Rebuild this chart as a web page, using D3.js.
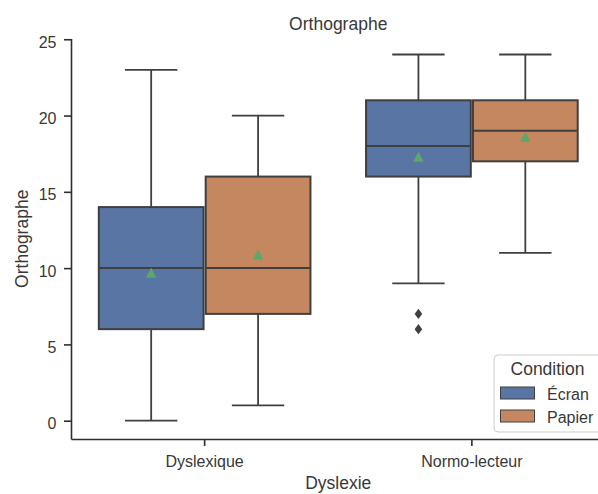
<!DOCTYPE html>
<html>
<head>
<meta charset="utf-8">
<script src="https://cdn.jsdelivr.net/npm/d3@7"></script>
<style>
  body { margin: 0; background: #fff; }
  text { font-family: "Liberation Sans", Arial, sans-serif; fill: #383838; }
</style>
</head>
<body>
<div id="chart"></div>
<script>
// chart values
const CATEGORIES = ['Dyslexique', 'Normo-lecteur'];
const CONDITIONS = ['Écran', 'Papier'];
// one entry per box: Dyslexique/Écran, Dyslexique/Papier, Normo/Écran, Normo/Papier
const BOX_CATEGORY = ['Dyslexique', 'Dyslexique', 'Normo-lecteur', 'Normo-lecteur'];
const BOX_CONDITION = ['Écran', 'Papier', 'Écran', 'Papier'];
const WHISKER_LOW = [0, 1, 9, 11];
const Q1 = [6, 7, 16, 17];
const MEDIAN = [10, 10, 18, 19];
const Q3 = [14, 16, 21, 21];
const WHISKER_HIGH = [23, 20, 24, 24];
const MEAN = [9.7, 10.9, 17.3, 18.6];
const OUTLIERS = [[], [], [7, 6], []];
const Y_TICKS = [0, 5, 10, 15, 20, 25];

const WIDTH = 598;
const HEIGHT = 494;
const MARGIN = { top: 38.5, right: -7.5, bottom: 55, left: 71 };
const PLOT_W = WIDTH - MARGIN.left - MARGIN.right;
const PLOT_H = HEIGHT - MARGIN.top - MARGIN.bottom;
const LINE_COLOR = '#3f3f3f';
const AXIS_COLOR = '#2e2e2e';
const TEXT_COLOR = '#383838';
const FILL = { 'Écran': '#5975a4', 'Papier': '#c4875f' };
const MEAN_COLOR = '#5aa86a';

const svg = d3.select('#chart')
  .append('svg')
    .attr('width', WIDTH)
    .attr('height', HEIGHT);

const g = svg.append('g')
  .attr('transform', `translate(${MARGIN.left}, ${MARGIN.top})`);

// y runs a little under 0 like the matplotlib margins
const y = d3.scaleLinear()
  .domain([-1.2, 25.05])
  .range([PLOT_H, 0]);

const x = d3.scaleBand()
  .domain(CATEGORIES)
  .range([0, PLOT_W])
  .padding(0);

// hue offset inside each category, 0.8 of the band split in two
const hue = d3.scaleBand()
  .domain(CONDITIONS)
  .range([-0.4 * x.bandwidth(), 0.4 * x.bandwidth()]);

const boxW = hue.bandwidth() * 0.98;

// axes
const yAxis = g.append('g')
  .call(d3.axisLeft(y).tickValues(Y_TICKS).tickSize(7).tickSizeOuter(0).tickPadding(7.5));
const xAxis = g.append('g')
  .attr('transform', `translate(0, ${PLOT_H})`)
  .call(d3.axisBottom(x).tickSize(7).tickSizeOuter(0).tickPadding(10));

[yAxis, xAxis].forEach(ax => {
  ax.select('.domain').attr('stroke', AXIS_COLOR).attr('stroke-width', 1.6);
  ax.selectAll('.tick line').attr('stroke', AXIS_COLOR).attr('stroke-width', 1.6);
  ax.selectAll('.tick text')
    .attr('fill', TEXT_COLOR)
    .style('font-size', '16px')
    .style('font-family', '"Liberation Sans", Arial, sans-serif');
});
yAxis.selectAll('.tick text').attr('dy', '0.5em');

const boxes = g.selectAll('.box')
  .data(BOX_CATEGORY.map((c, i) => i))
  .enter()
  .append('g')
    .attr('class', 'box')
    .attr('transform', i => `translate(${x(BOX_CATEGORY[i]) + x.bandwidth() / 2 + hue(BOX_CONDITION[i]) + hue.bandwidth() / 2}, 0)`);

// whiskers
boxes.append('line')
  .attr('y1', i => y(WHISKER_LOW[i]))
  .attr('y2', i => y(Q1[i]))
  .attr('stroke', LINE_COLOR).attr('stroke-width', 1.8);
boxes.append('line')
  .attr('y1', i => y(Q3[i]))
  .attr('y2', i => y(WHISKER_HIGH[i]))
  .attr('stroke', LINE_COLOR).attr('stroke-width', 1.8);
// caps, half the box width
boxes.append('line')
  .attr('x1', -boxW / 4).attr('x2', boxW / 4)
  .attr('y1', i => y(WHISKER_LOW[i])).attr('y2', i => y(WHISKER_LOW[i]))
  .attr('stroke', LINE_COLOR).attr('stroke-width', 1.8);
boxes.append('line')
  .attr('x1', -boxW / 4).attr('x2', boxW / 4)
  .attr('y1', i => y(WHISKER_HIGH[i])).attr('y2', i => y(WHISKER_HIGH[i]))
  .attr('stroke', LINE_COLOR).attr('stroke-width', 1.8);

// box body
boxes.append('rect')
  .attr('x', -boxW / 2)
  .attr('width', boxW)
  .attr('y', i => y(Q3[i]))
  .attr('height', i => y(Q1[i]) - y(Q3[i]))
  .attr('fill', i => FILL[BOX_CONDITION[i]])
  .attr('stroke', LINE_COLOR)
  .attr('stroke-width', 2);

// median
boxes.append('line')
  .attr('x1', -boxW / 2).attr('x2', boxW / 2)
  .attr('y1', i => y(MEDIAN[i])).attr('y2', i => y(MEDIAN[i]))
  .attr('stroke', LINE_COLOR).attr('stroke-width', 2);

// mean triangle
boxes.append('path')
  .attr('d', 'M0,-5L5.2,5L-5.2,5Z')
  .attr('transform', i => `translate(0, ${y(MEAN[i])})`)
  .attr('fill', MEAN_COLOR);

// outliers as thin diamonds
boxes.selectAll('.flier')
  .data(i => OUTLIERS[i])
  .enter()
  .append('path')
    .attr('class', 'flier')
    .attr('d', 'M0,-5.2L3.8,0L0,5.2L-3.8,0Z')
    .attr('transform', v => `translate(0, ${y(v)})`)
    .attr('fill', LINE_COLOR);

// title and axis labels
const centerX = MARGIN.left + PLOT_W / 2;
svg.append('text')
  .attr('x', centerX).attr('y', 30)
  .attr('text-anchor', 'middle')
  .style('font-size', '17.5px')
  .text('Orthographe');
svg.append('text')
  .attr('x', centerX).attr('y', 488.5)
  .attr('text-anchor', 'middle')
  .style('font-size', '17.5px')
  .text('Dyslexie');
svg.append('text')
  .attr('transform', `translate(27.5, ${MARGIN.top + PLOT_H / 2}) rotate(-90)`)
  .attr('text-anchor', 'middle')
  .style('font-size', '17.5px')
  .text('Orthographe');

// legend
const legend = svg.append('g').attr('transform', 'translate(494, 355)');
legend.append('rect')
  .attr('width', 110).attr('height', 77)
  .attr('rx', 4)
  .attr('fill', 'rgba(255,255,255,0.8)')
  .attr('stroke', '#cccccc')
  .attr('stroke-width', 1);
legend.append('text')
  .attr('x', 53.5).attr('y', 20)
  .attr('text-anchor', 'middle')
  .style('font-size', '17.5px')
  .text('Condition');
const items = legend.selectAll('.item')
  .data(CONDITIONS)
  .enter()
  .append('g')
    .attr('transform', (d, i) => `translate(0, ${32 + i * 23})`);
items.append('rect')
  .attr('x', 6.5).attr('width', 34).attr('height', 12)
  .attr('fill', d => FILL[d])
  .attr('stroke', LINE_COLOR)
  .attr('stroke-width', 1);
items.append('text')
  .attr('x', 53).attr('y', 12.5)
  .style('font-size', '16px')
  .text(d => d);
</script>
</body>
</html>
